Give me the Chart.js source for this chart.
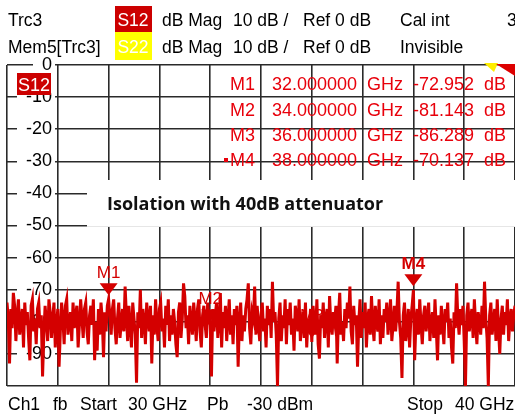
<!DOCTYPE html>
<html>
<head>
<meta charset="utf-8">
<script src="https://cdn.jsdelivr.net/npm/chart.js@4"></script>
<style>
  html, body { margin: 0; padding: 0; background: #fff; }
  canvas { display: block; }
</style>
</head>
<body>
<canvas id="vnaChart" width="515" height="416"></canvas>
<script>
// sweep: Start 30 GHz, Stop 40 GHz, 401 points
const startGHz = 30;
const stopGHz = 40;

// S12 trace (dB), 20 points per row
const s12dB = [
  -74, -79, -93, -76, -82, -71, -75, -86, -78, -73, -84, -80, -76, -88, -74, -81, -77, -85, -92, -75,
  -73, -83, -79, -87, -76, -74, -82, -78, -97, -84, -75, -80, -86, -73, -77, -85, -79, -74, -88, -81,
  -76, -94, -83, -74, -79, -87, -75, -73, -84, -80, -77, -86, -74, -82, -78, -75, -88, -81, -73, -79,
  -85, -76, -74, -83, -87, -78, -75, -81, -73, -92, -80, -89, -76, -84, -74, -79, -91, -77, -83, -75,
  -72.95, -78, -84, -76, -73, -82, -87, -79, -74, -85, -80, -76, -83, -69, -78, -86, -75, -81, -88, -74,
  -79, -84, -99, -77, -82, -70, -85, -76, -80, -87, -74, -79, -83, -75, -93, -78, -84, -73, -81, -86,
  -76, -74, -83, -79, -88, -75, -81, -73, -86, -78, -84, -76, -80, -87, -91, -77, -74, -85, -79, -68,
  -72, -82, -78, -87, -75, -80, -84, -74, -79, -86, -76, -73, -83, -88, -78, -75, -81, -85, -74, -79,
  -81.14, -97, -76, -83, -78, -74, -85, -80, -71, -88, -77, -82, -75, -86, -79, -73, -84, -78, -87, -76,
  -81, -75, -94, -80, -74, -86, -78, -83, -76, -73, -68, -82, -87, -77, -79, -69, -84, -75, -81, -86,
  -78, -74, -83, -79, -88, -75, -81, -76, -85, -67.5, -80, -77, -84, -100, -79, -74, -86, -78, -82, -73,
  -87, -76, -81, -74, -84, -79, -89, -75, -78, -83, -73, -86, -80, -77, -85, -74, -88, -79, -82, -76,
  -86.29, -75, -80, -84, -73, -87, -91.5, -78, -82, -74, -85, -79, -76, -88, -72, -81, -84, -77, -80, -75,
  -93, -78, -71, -84, -80, -86, -76, -82, -74, -79, -69, -83, -87, -75, -81, -78, -94, -80, -73, -85,
  -77, -82, -74, -88, -79, -76, -84, -72, -81, -86, -75, -80, -83, -73, -87, -78, -85, -76, -80, -74,
  -84, -79, -73, -86, -81, -75, -83, -77, -67.5, -80, -85, -97.5, -78, -74, -86, -82, -76, -88, -79, -75,
  -70.14, -92, -80, -76, -84, -73, -81, -87, -78, -75, -83, -79, -74, -86, -80, -77, -85, -73, -82, -92,
  -78, -84, -75, -81, -87, -76, -80, -74, -85, -79, -88, -93, -77, -82, -68, -79, -84, -76, -81, -75,
  -86, -100, -78, -74, -83, -79, -76, -85, -73, -81, -87, -77, -80, -84, -75, -82, -67.5, -79, -85, -100,
  -78, -74, -84, -80, -76, -86, -73, -82, -90, -79, -75, -84, -77, -81, -73, -86, -79, -76, -83, -78,
  -75
];

const yMin = -100;
const yMax = 0;
const yStep = 10;

const markerNames = ['M1', 'M2', 'M3', 'M4'];
const markerGHz = [32, 34, 36, 38];
const markerDB = [-72.952, -81.143, -86.289, -70.137];

const headerRow1 = ['Trc3', 'S12', 'dB Mag', '10 dB /', 'Ref 0 dB', 'Cal int', '3'];
const headerRow2 = ['Mem5[Trc3]', 'S22', 'dB Mag', '10 dB /', 'Ref 0 dB', 'Invisible'];
const footer = ['Ch1', 'fb', 'Start', '30 GHz', 'Pb', '-30 dBm', 'Stop', '40 GHz'];
const noteText = 'Isolation with 40dB attenuator';

const RED = '#d40000';
const FONT = '"Liberation Sans", Arial, sans-serif';

const points = s12dB.map((v, i) => ({
  x: startGHz + (stopGHz - startGHz) * i / (s12dB.length - 1),
  y: v
}));

const screenText = {
  id: 'screenText',
  afterDraw(chart) {
    const c = chart.ctx;
    const xs = chart.scales.x;
    const ys = chart.scales.y;
    const area = chart.chartArea;
    c.save();

    // note box
    c.fillStyle = '#fff';
    c.fillRect(87, 180, area.right - 87, 47);
    c.fillStyle = '#e6e6e6';
    c.fillRect(87, 226, area.right - 87, 1);
    c.fillStyle = '#111';
    c.font = 'bold 18px "Open Sans", sans-serif';
    c.textBaseline = 'alphabetic';
    c.textAlign = 'left';
    c.fillText(noteText, 107, 210);

    // marker triangles + names
    markerNames.forEach((name, i) => {
      const px = xs.getPixelForValue(markerGHz[i]);
      const py = ys.getPixelForValue(markerDB[i]);
      const tip = py - 4;
      c.fillStyle = RED;
      c.beginPath();
      c.moveTo(px - 9, tip - 12);
      c.lineTo(px + 9, tip - 12);
      c.lineTo(px, tip);
      c.closePath();
      c.fill();
      c.font = (i === 3 ? 'bold ' : '') + '17px ' + FONT;
      c.textAlign = 'center';
      c.fillText(name, px, tip - 17);
    });

    // marker table
    const rowY = [90, 116, 141, 166];
    c.font = '18px ' + FONT;
    c.fillStyle = '#e8000b';
    markerNames.forEach((name, i) => {
      c.textAlign = 'right';
      c.fillText(name, 255, rowY[i]);
      c.textAlign = 'left';
      c.fillText(markerGHz[i].toFixed(6), 272, rowY[i]);
      c.fillText('GHz', 367, rowY[i]);
      c.fillText(markerDB[i].toFixed(3), 413, rowY[i]);
      c.textAlign = 'right';
      c.fillText('dB', 506, rowY[i]);
    });
    c.fillRect(224, 158, 4, 4);

    // trace label at left
    c.fillStyle = '#cc0000';
    c.fillRect(17, 73, 34, 22);
    c.fillStyle = '#fff';
    c.textAlign = 'center';
    c.font = '18px ' + FONT;
    c.fillText('S12', 34, 91);

    // ref level arrows, top right
    c.fillStyle = '#ffee00';
    c.beginPath();
    c.moveTo(484, 63); c.lineTo(498, 63); c.lineTo(494, 72);
    c.closePath(); c.fill();
    c.fillStyle = '#dd0000';
    c.beginPath();
    c.moveTo(496, 64); c.lineTo(515, 64); c.lineTo(515, 76);
    c.closePath(); c.fill();

    // header
    c.fillStyle = '#cc0000';
    c.fillRect(115, 6, 37, 26);
    c.fillStyle = '#ffff00';
    c.fillRect(115, 32, 37, 28);
    const colX = [8, 133, 162, 233, 303, 400, 507];
    c.font = '17.5px ' + FONT;
    headerRow1.forEach((t, i) => {
      c.textAlign = i === 1 ? 'center' : 'left';
      c.fillStyle = i === 1 ? '#fff' : '#000';
      c.fillText(t, colX[i], 26);
    });
    headerRow2.forEach((t, i) => {
      c.textAlign = i === 1 ? 'center' : 'left';
      c.fillStyle = i === 1 ? '#fff' : '#000';
      c.fillText(t, colX[i], 53);
    });

    // footer
    const footX = [8, 53, 80, 128, 207, 247, 407, 455];
    c.fillStyle = '#000';
    c.textAlign = 'left';
    footer.forEach((t, i) => c.fillText(t, footX[i], 410));

    c.restore();
  }
};

new Chart(document.getElementById('vnaChart'), {
  type: 'line',
  data: {
    datasets: [{
      data: points,
      borderColor: RED,
      borderWidth: 3,
      pointRadius: 0,
      tension: 0
    }]
  },
  options: {
    responsive: false,
    animation: false,
    layout: { padding: { left: 7, top: 65, right: 0, bottom: 30 } },
    plugins: {
      legend: { display: false },
      tooltip: { enabled: false }
    },
    scales: {
      x: {
        type: 'linear',
        min: startGHz,
        max: stopGHz,
        ticks: { stepSize: 1, display: false },
        grid: { color: '#2a2a2a', lineWidth: 1.6, drawTicks: false },
        border: { display: false },
        afterFit: (s) => { s.height = 0; }
      },
      y: {
        min: yMin,
        max: yMax,
        ticks: {
          stepSize: yStep,
          mirror: true,
          crossAlign: 'far',
          padding: 19,
          color: '#000',
          font: { family: FONT, size: 18 },
          showLabelBackdrop: true,
          backdropColor: (ctx) => ctx.tick && ctx.tick.value === yMin ? 'rgba(0,0,0,0)' : '#fff',
          backdropPadding: { left: 9, right: 3, top: 0, bottom: 0 },
          callback: (v) => v === yMin ? '' : String(v)
        },
        grid: { color: '#2a2a2a', lineWidth: 1.6, drawTicks: false },
        border: { display: false },
        afterFit: (s) => { s.width = 0; }
      }
    }
  },
  plugins: [screenText]
});
</script>
</body>
</html>
